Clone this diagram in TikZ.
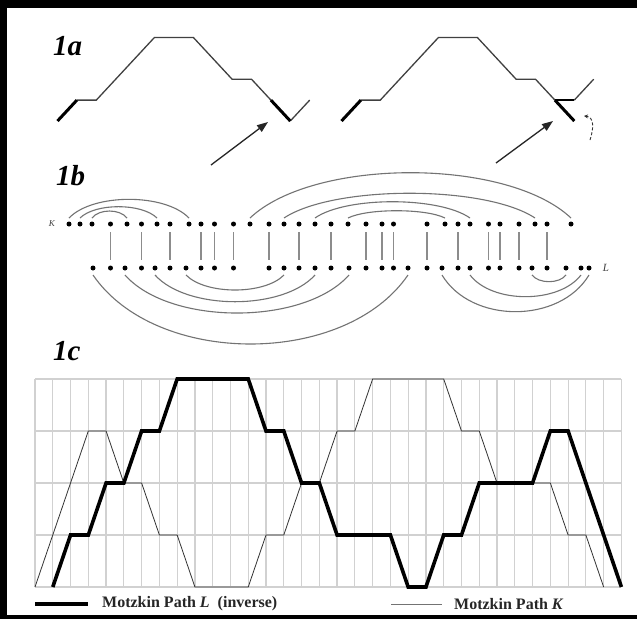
\documentclass[tikz,border=0pt]{standalone}
\usepackage{fontspec}
\setmainfont{Liberation Serif}
\usetikzlibrary{arrows.meta}
\begin{document}
\begin{tikzpicture}[x=1pt,y=-1pt,
  dot/.style={circle,fill=black,inner sep=0pt,minimum size=5pt},
  arcline/.style={draw=black!55,line width=1.1pt},
  rung/.style={draw=black!45,line width=1.1pt},
  panel/.style={font=\fontsize{29}{29}\selectfont\bfseries\itshape,anchor=base west,inner sep=0pt},
  thinseg/.style={draw=black!75,line width=1.3pt},
  thickseg/.style={draw=black,line width=3pt},
  pointer/.style={draw=black!85,line width=1.3pt,-{Triangle[length=11pt,width=8pt]}},
  gridline/.style={draw=black!18,line width=1.2pt},
  kpath/.style={draw=black!80,line width=0.8pt},
  lpath/.style={draw=black,line width=3.6pt},
  legendtext/.style={font=\fontsize{16}{16}\selectfont\bfseries,anchor=west,inner sep=0pt,text=black!85}]
\useasboundingbox (0,0) rectangle (637,619);
\fill[white] (0,0) rectangle (637,619);
% frame
\fill[black] (0,0) rectangle (637,8);
\fill[black] (0,0) rectangle (7,619);
\fill[black] (0,615) rectangle (637,619);
% panel labels
\node[panel] (la) at (53,55) {1a};
\node[panel] (lb) at (56,185) {1b};
\node[panel] (lc) at (53,360) {1c};
% ---------- 1a ----------
\coordinate (p0) at (57.5,121);
\coordinate (p1) at (76.9,100.1);
\coordinate (p2) at (96.3,100.1);
\coordinate (p5) at (154.5,37.4);
\coordinate (p7) at (193.3,37.4);
\coordinate (p9) at (232.1,79.2);
\coordinate (p10) at (251.5,79.2);
\coordinate (p11) at (270.9,100.1);
\coordinate (p12) at (290.3,121);
\coordinate (p13) at (309.7,100.1);
\draw[thinseg] (p1) -- (p2) -- (p5) -- (p7) -- (p9) -- (p10) -- (p11);
\draw[thinseg] (p12) -- (p13);
\draw[thickseg] (p0) -- (p1);
\draw[thickseg] (p11) -- (p12);
\coordinate (a1s) at (211,165);
\coordinate (a1e) at (268,122);
\draw[pointer] (a1s) -- (a1e);
\coordinate (q0) at (341.5,121);
\coordinate (q1) at (360.9,100.1);
\coordinate (q2) at (380.3,100.1);
\coordinate (q5) at (438.5,37.4);
\coordinate (q7) at (477.3,37.4);
\coordinate (q9) at (516.1,79.2);
\coordinate (q10) at (535.5,79.2);
\coordinate (q11) at (554.9,100.1);
\coordinate (q12) at (574.3,121);
\coordinate (q12b) at (574.3,100.1);
\coordinate (q13) at (593.7,79.2);
\draw[thinseg] (q1) -- (q2) -- (q5) -- (q7) -- (q9) -- (q10) -- (q11);
\draw[thinseg] (q12b) -- (q13);
\draw[thickseg] (q0) -- (q1);
\draw[thickseg] (q11) -- (q12);
\draw[draw=black,line width=2.2pt] (q11) -- (q12b);
\coordinate (a2s) at (496,163);
\coordinate (a2e) at (553,121);
\draw[pointer] (a2s) -- (a2e);
\coordinate (r0) at (590,140);
\coordinate (r1) at (584,116);
\draw[draw=black!80,line width=0.9pt,dash pattern=on 3pt off 2pt,-{Stealth[length=4pt,width=4pt]}] (r0) .. controls (594,128) and (594,117) .. (r1);
% ---------- 1b ----------
\foreach \x [count=\i] in {69,80,92,110.5,127,141.5,157,170,189,201,214.5,233.5,250,269,284,299,315,331,348,366,382,393.5,427,445,458,470,488.5,500,519,535,547,571}
  \node[dot] (t\i) at (\x,224) {};
\foreach \x [count=\i] in {93,110.5,125,141.5,155,170,186,201,214.5,233.5,269,284,299,315,331,349,366,382,393.5,408,427,442,458,470,488.5,500,519,532,547,566,581,589}
  \node[dot] (b\i) at (\x,268) {};
\node[font=\fontsize{9}{9}\selectfont\itshape,text=black!75,inner sep=0pt] (klab) at (52,224) {K};
\node[font=\fontsize{11}{11}\selectfont\itshape,text=black!75,inner sep=0pt] (llab) at (606,268) {L};
% rungs
\foreach \a/\b in {4/2,6/4,8/6,10/8,11/9,12/10,14/11,16/13,18/15,20/17,21/18,22/19,23/21,25/23,27/25,28/26,29/27,31/29}
  \draw[rung] ([yshift=-8pt]t\a.center) -- ([yshift=8pt]b\b.center);
% top arcs
\draw[arcline] ([yshift=6pt]t1.center) .. controls +(24,-24.9) and +(-24,-24.9) .. ([yshift=6pt]t9.center);
\draw[arcline] ([yshift=6pt]t2.center) .. controls +(15.4,-15.1) and +(-15.4,-15.1) .. ([yshift=6pt]t7.center);
\draw[arcline] ([yshift=6pt]t3.center) .. controls +(7,-9.3) and +(-7,-9.3) .. ([yshift=6pt]t5.center);
\draw[arcline] ([yshift=6pt]t13.center) .. controls +(64,-60.4) and +(-64,-60.4) .. ([yshift=6pt]t32.center);
\draw[arcline] ([yshift=6pt]t15.center) .. controls +(50,-33) and +(-50,-33) .. ([yshift=6pt]t30.center);
\draw[arcline] ([yshift=6pt]t17.center) .. controls +(31,-21.7) and +(-31,-21.7) .. ([yshift=6pt]t26.center);
\draw[arcline] ([yshift=6pt]t19.center) .. controls +(19.4,-9.7) and +(-19.4,-9.7) .. ([yshift=6pt]t24.center);
% bottom arcs
\draw[arcline] ([yshift=-7pt]b1.center) .. controls +(63,92) and +(-63,92) .. ([yshift=-7pt]b20.center);
\draw[arcline] ([yshift=-7pt]b3.center) .. controls +(44.8,50.7) and +(-44.8,50.7) .. ([yshift=-7pt]b16.center);
\draw[arcline] ([yshift=-7pt]b5.center) .. controls +(32,35.6) and +(-32,35.6) .. ([yshift=-7pt]b14.center);
\draw[arcline] ([yshift=-7pt]b7.center) .. controls +(19.6,20) and +(-19.6,20) .. ([yshift=-7pt]b12.center);
\draw[arcline] ([yshift=-7pt]b22.center) .. controls +(29.4,48.9) and +(-29.4,48.9) .. ([yshift=-7pt]b32.center);
\draw[arcline] ([yshift=-7pt]b24.center) .. controls +(22.2,28.9) and +(-22.2,28.9) .. ([yshift=-7pt]b31.center);
\draw[arcline] ([yshift=-7pt]b28.center) .. controls +(6.8,8.9) and +(-6.8,8.9) .. ([yshift=-7pt]b30.center);
% ---------- 1c ----------
\begin{scope}[shift={(35,587)},x=17.77pt,y=52pt]
  \foreach \i in {0,...,33} \draw[gridline] (\i,0) -- (\i,4);
  \foreach \l in {0,...,4} \draw[gridline] (0,\l) -- (33,\l);
  \draw[kpath] (0,0) -- (3,3) -- (4,3) -- (5,2) -- (6,2) -- (7,1) -- (8,1) -- (9,0) -- (12,0) -- (13,1) -- (14,1) -- (15,2) -- (16,2) -- (17,3) -- (18,3) -- (19,4) -- (23,4) -- (24,3) -- (25,3) -- (26,2) -- (29,2) -- (30,1) -- (31,1) -- (32,0);
  \draw[lpath] (1,0) -- (2,1) -- (3,1) -- (4,2) -- (5,2) -- (6,3) -- (7,3) -- (8,4) -- (12,4) -- (13,3) -- (14,3) -- (15,2) -- (16,2) -- (17,1) -- (20,1) -- (21,0) -- (22,0) -- (23,1) -- (24,1) -- (25,2) -- (28,2) -- (29,3) -- (30,3) -- (33,0);
\end{scope}
% legend
\coordinate (lg1s) at (35,604);
\coordinate (lg1e) at (88,604);
\draw[draw=black,line width=4pt] (lg1s) -- (lg1e);
\node[legendtext] (lgt1) at (102,604) {Motzkin Path \textit{L}\ \ (inverse)};
\coordinate (lg2s) at (391,604);
\coordinate (lg2e) at (442,604);
\draw[draw=black!55,line width=1pt] (lg2s) -- (lg2e);
\node[legendtext] (lgt2) at (454,604) {Motzkin Path \textit{K}};
\end{tikzpicture}
\end{document}
